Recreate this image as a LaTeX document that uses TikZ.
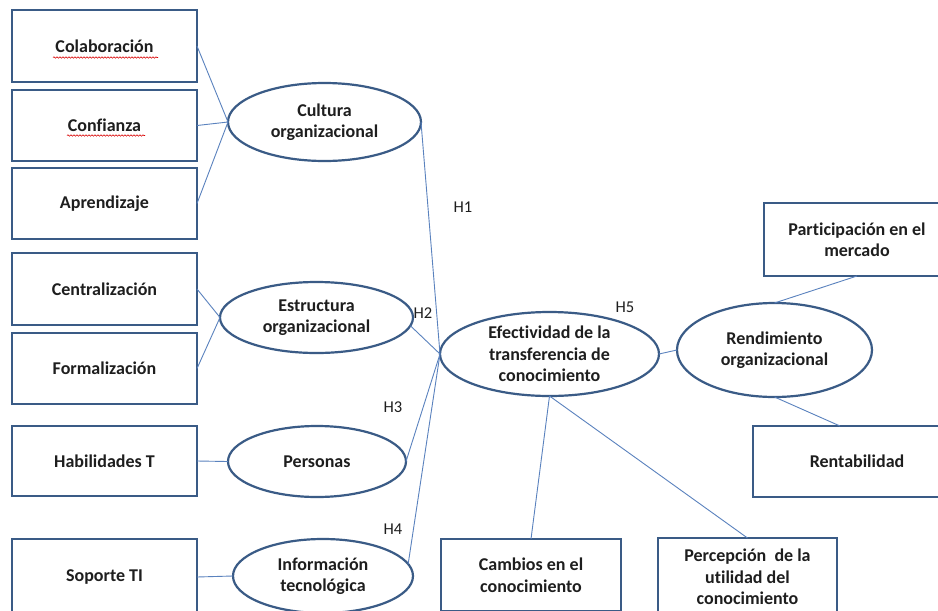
\documentclass[tikz,border=0pt]{standalone}
\usepackage{fontspec}
\setmainfont{Carlito}[RawFeature=-liga]
\usetikzlibrary{shapes.geometric,decorations.pathmorphing}
\definecolor{shapeblue}{HTML}{3A5B86}
\definecolor{linkblue}{HTML}{5A82BE}
\definecolor{txt}{HTML}{1E1E1E}
\begin{document}
\begin{tikzpicture}[x=1pt,y=-1pt,
  lbl/.style={font=\fontsize{18}{21.5}\selectfont\bfseries, text=txt, align=center, inner sep=0pt},
  box/.style={lbl, draw=shapeblue, line width=2.2pt, rectangle, outer sep=0pt},
  oval/.style={draw=shapeblue, line width=2.2pt, ellipse, inner sep=0pt, outer sep=0pt},
  link/.style={draw=linkblue, line width=0.9pt},
  hyp/.style={font=\fontsize{16.5}{19}\selectfont, text=txt, inner sep=0pt},
  squiggle/.style={draw=red!85!black, line width=0.6pt, decorate, decoration={snake, amplitude=0.7pt, segment length=3pt}}]
\fill[white] (0,0) rectangle (938,611);
\useasboundingbox (0,0) rectangle (938,611);
\clip (0,0) rectangle (938,611);

% left boxes
\node[box, minimum width=185, minimum height=72] (colab) at (104.5,46) {Colaboración};
\node[box, minimum width=185, minimum height=71] (confi) at (104.5,125.5) {Confianza};
\node[box, minimum width=185, minimum height=71] (apren) at (104.5,203.5) {Aprendizaje};
\node[box, minimum width=185, minimum height=72] (centr) at (104.5,289) {Centralización};
\node[box, minimum width=185, minimum height=71] (forma) at (104.5,368.5) {Formalización};
\node[box, minimum width=185, minimum height=70] (habil) at (104.5,461) {Habilidades T};
\node[box, minimum width=185, minimum height=76] (sopor) at (104.5,577) {Soporte TI};

% spell-check underlines
\draw[squiggle] (53,57.5) -- (158,57.5);
\draw[squiggle] (67,135.5) -- (145,135.5);

% ellipses
\node[oval, minimum width=193, minimum height=78] (cult) at (324.5,122) {};
\node[lbl] (cultT) at (cult.center) {Cultura\\organizacional};
\node[oval, minimum width=193, minimum height=71] (estr) at (316.5,317.5) {};
\node[lbl] (estrT) at (estr.center) {Estructura\\organizacional};
\node[oval, minimum width=178, minimum height=71] (pers) at (317,461.5) {};
\node[lbl] (persT) at (pers.center) {Personas};
\node[oval, minimum width=180, minimum height=74] (info) at (323,576) {};
\node[lbl] (infoT) at (info.center) {Información\\tecnológica};
\node[oval, minimum width=219, minimum height=84] (efec) at (549.5,354) {};
\node[lbl] (efecT) at (efec.center) {Efectividad de la\\transferencia de\\conocimiento};
\node[oval, minimum width=195, minimum height=94] (rend) at (774.5,350) {};
\node[lbl] (rendT) at (rend.center) {Rendimiento\\organizacional};

% right and bottom boxes
\node[box, minimum width=186, minimum height=73] (parti) at (857,239.5) {Participación en el\\mercado};
\node[box, minimum width=208, minimum height=71] (renta) at (857,461.5) {Rentabilidad};
\node[box, minimum width=180, minimum height=72] (cambi) at (531,575) {Cambios en el\\conocimiento};
\node[box, minimum width=179, minimum height=78] (perce) at (747.5,577) {Percepción\ \ de la\\utilidad del\\conocimiento};

% connectors
\draw[link] (colab.east) -- (cult.west);
\draw[link] (confi.east) -- (cult.west);
\draw[link] (apren.east) -- (cult.west);
\draw[link] (centr.east) -- (estr.west);
\draw[link] (forma.east) -- (estr.west);
\draw[link] (habil.east) -- (pers.west);
\draw[link] (sopor.east) -- (info.west);
\draw[link] (cult.east) -- (efec.west);
\draw[link] (estr.-5) -- (efec.west);
\draw[link] (pers.east) -- (efec.west);
\draw[link] (info.8) -- (efec.west);
\draw[link] (efec.east) -- (rend.west);
\draw[link] (rend.north) -- (parti.south);
\draw[link] (rend.south) -- ([xshift=-17pt]renta.north);
\draw[link] (efec.south) -- (cambi.north);
\draw[link] (efec.south) -- (perce.north);

% hypothesis labels
\node[hyp] (h1) at (463,207) {H1};
\node[hyp] (h2) at (423,313) {H2};
\node[hyp] (h3) at (393,407) {H3};
\node[hyp] (h4) at (393,529) {H4};
\node[hyp] (h5) at (625,307) {H5};
\end{tikzpicture}
\end{document}
